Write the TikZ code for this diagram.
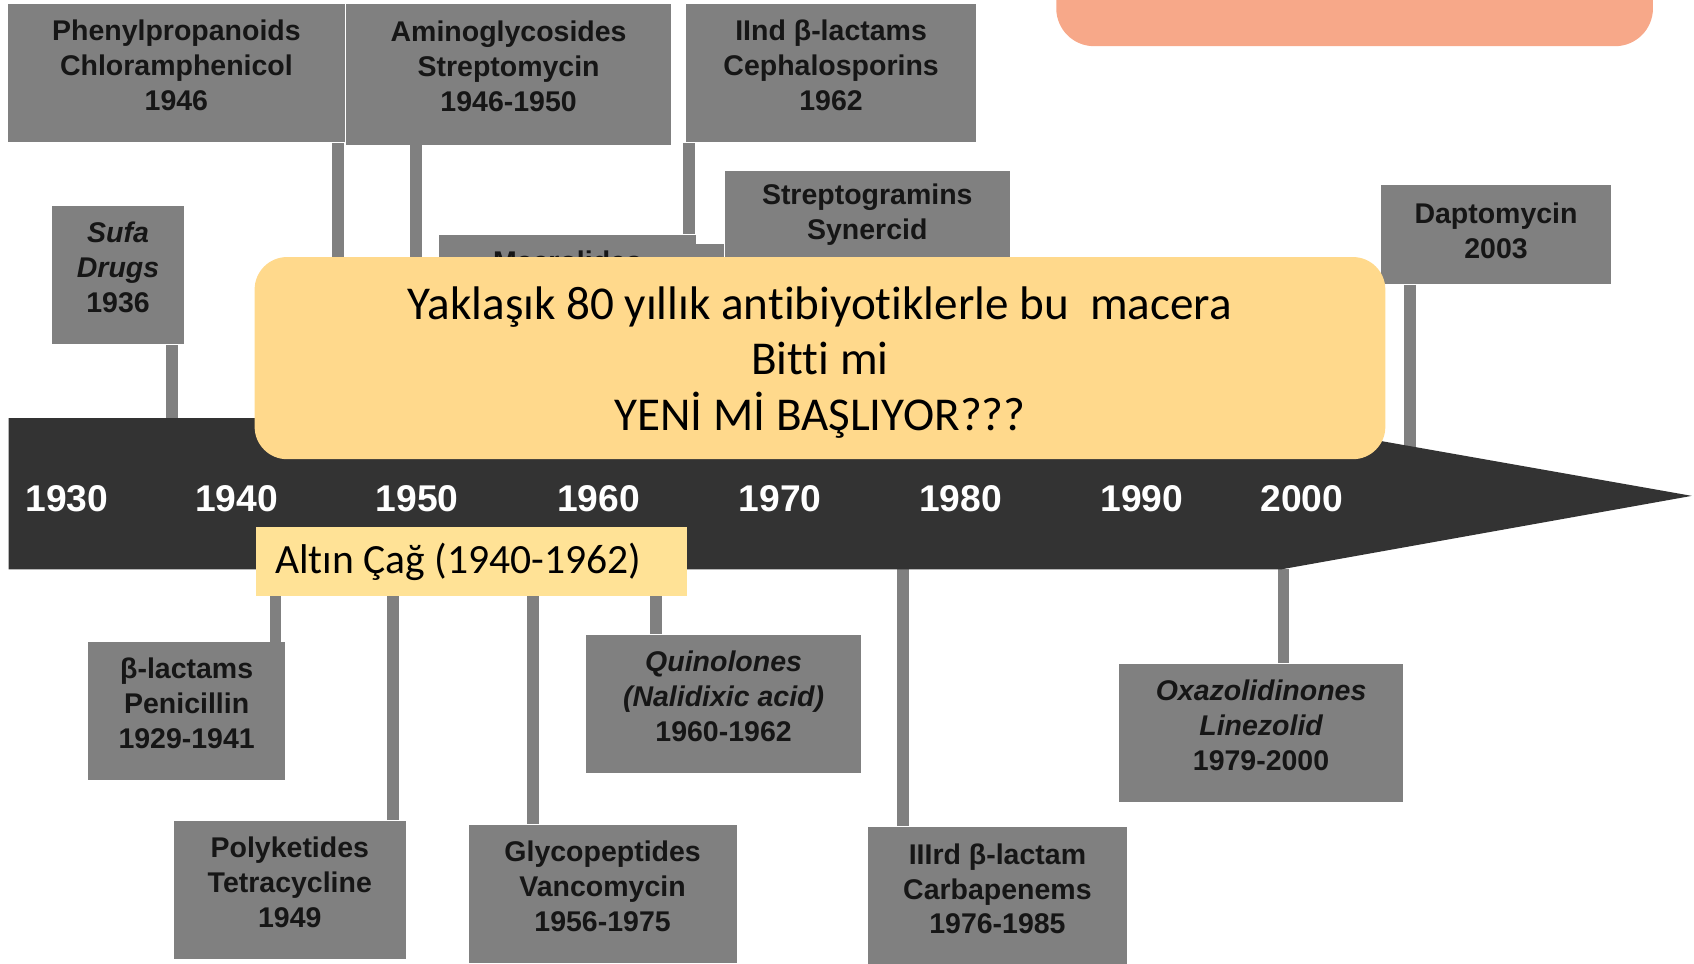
\documentclass[tikz,border=0pt]{standalone}
\usepackage{fontspec}
\setmainfont{Liberation Sans}
\newfontfamily\calfont[RawFeature={-liga;-clig;-dlig}]{Carlito}
\usepackage{tikz}

\definecolor{boxgray}{HTML}{808080}
\definecolor{boxtext}{HTML}{161616}
\definecolor{bardark}{HTML}{333333}
\definecolor{yellowbox}{HTML}{FFD98C}
\definecolor{altinbox}{HTML}{FFE296}
\definecolor{salmon}{HTML}{F7A889}

\begin{document}
\begin{tikzpicture}[x=0.01cm, y=-0.01cm]
    \tikzstyle{gbox}=[fill=boxgray, anchor=north west, inner sep=0pt]
    \tikzstyle{gtext}=[align=center, text=boxtext, yshift=0.07cm,
            font=\bfseries\fontsize{7.5}{9.2}\selectfont]
    \tikzstyle{year}=[text=white, font=\bfseries\fontsize{9.8}{11}\selectfont]
    \tikzstyle{stem}=[boxgray, line width=0.11cm]

        \clip (0,0) rectangle (1568,892);

        % boxes above the timeline
        \node[gbox, minimum width=3.11cm, minimum height=1.28cm,
            label={[gtext]center:{Phenylpropanoids\\Chloramphenicol\\1946}}]
            (phenyl) at (7,3) {};
        \node[gbox, minimum width=3.00cm, minimum height=1.30cm,
            label={[gtext]center:{Aminoglycosides\\Streptomycin\\1946-1950}}]
            (amino) at (320,3) {};
        \node[gbox, minimum width=2.69cm, minimum height=1.28cm,
            label={[gtext]center:{IInd β-lactams\\Cephalosporins\\1962}}]
            (iind) at (634,3) {};
        \node[gbox, minimum width=1.23cm, minimum height=1.28cm,
            label={[gtext]center:{\itshape Sufa\\\itshape Drugs\\1936}}]
            (sufa) at (47,190) {};
        \node[gbox, minimum width=2.37cm, minimum height=1.28cm,
            label={[gtext, yshift=0.33cm]center:Macrolides}]
            (macro) at (406,217) {};
        \node[gbox, minimum width=2.64cm, minimum height=1.28cm,
            label={[gtext, yshift=0.17cm]center:{Streptogramins\\Synercid}}]
            (strep) at (670,158) {};
        \node[gbox, minimum width=2.12cm, minimum height=0.91cm,
            label={[gtext, yshift=-0.035cm]center:{Daptomycin\\2003}}]
            (dapto) at (1278,171) {};

        % boxes below the timeline
        \node[gbox, minimum width=1.82cm, minimum height=1.27cm,
            label={[gtext]center:{β-lactams\\Penicillin\\1929-1941}}]
            (blact) at (81,594) {};
        \node[gbox, minimum width=2.15cm, minimum height=1.28cm,
            label={[gtext]center:{Polyketides\\Tetracycline\\1949}}]
            (polyk) at (160,759) {};
        \node[gbox, minimum width=2.54cm, minimum height=1.28cm,
            label={[gtext]center:{\itshape Quinolones\\\itshape (Nalidixic acid)\\1960-1962}}]
            (quino) at (542,587) {};
        \node[gbox, minimum width=2.48cm, minimum height=1.28cm,
            label={[gtext]center:{Glycopeptides\\Vancomycin\\1956-1975}}]
            (glyco) at (433,763) {};
        \node[gbox, minimum width=2.39cm, minimum height=1.28cm,
            label={[gtext]center:{IIIrd β-lactam\\Carbapenems\\1976-1985}}]
            (iiird) at (803,765) {};
        \node[gbox, minimum width=2.63cm, minimum height=1.28cm,
            label={[gtext]center:{\itshape Oxazolidinones\\\itshape Linezolid\\1979-2000}}]
            (oxazo) at (1035,614) {};

        \fill[boxgray] ([yshift=-0.09cm]macro.north east) rectangle (strep.south west);

        % stems
        \foreach \n/\x/\e in {sufa/159/387, phenyl/313/387, amino/385/387, dapto/1305/420}
        {
            \coordinate (e\n) at (\x,\e);
            \draw[stem] (e\n |- \n.south) -- (e\n);
        }
        \coordinate (eiind) at (638,0);
        \draw[stem] (eiind |- iind.south) -- (eiind |- macro.north);

        \foreach \n/\x in {blact/255, polyk/364, glyco/493, quino/607, iiird/836, oxazo/1188}
        {
            \coordinate (b\n) at (\x,527);
            \draw[stem] (b\n) -- (b\n |- \n.north);
        }

        % timeline
        \fill[bardark] (8,387) -- (1158,387) -- (1566,459) -- (1186,527)
            -- (8,527) -- cycle;

        \foreach \yr/\x in {1930/62, 1940/219, 1950/386, 1960/554,
            1970/722, 1980/889, 1990/1057, 2000/1205}
        {
            \node[year] (y\yr) at (\x,462) {\yr};
        }

        \node[fill=salmon, rounded corners=0.35cm, anchor=north west,
            minimum width=5.52cm, minimum height=0.9cm] (title) at (977,-48) {};

        \node[fill=yellowbox, rounded corners=0.3cm,
            minimum width=10.46cm, minimum height=1.87cm,
            label={[align=center, yshift=-0.04cm,
                font=\calfont\fontsize{12.4}{14.6}\selectfont]center:{Yaklaşık 80 yıllık antibiyotiklerle bu\ \ macera\\Bitti mi\\YENİ Mİ BAŞLIYOR???}}]
            (question) at (759,331.5) {};

        \node[fill=altinbox, anchor=north west, inner xsep=0.18cm, inner ysep=0pt,
            text width=3.63cm, minimum height=0.64cm, align=flush left,
            font=\calfont\fontsize{10.95}{13}\selectfont] (altin) at (236,487)
            {Altın Çağ (1940-1962)};

    \end{tikzpicture}
\end{document}
